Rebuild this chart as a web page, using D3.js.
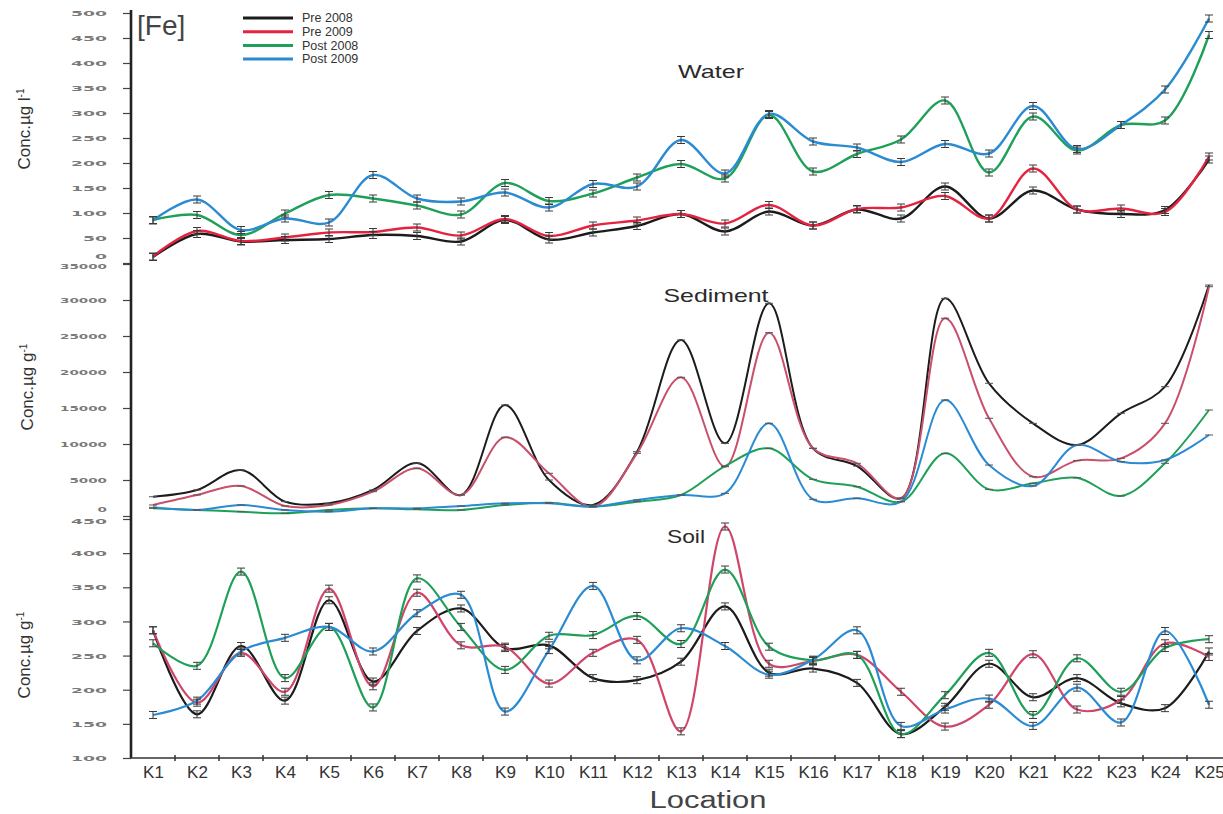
<!DOCTYPE html>
<html>
<head>
<meta charset="utf-8">
<script src="https://cdn.jsdelivr.net/npm/d3@7"></script>
<style>
  body { margin: 0; background: #fff; }
  svg { display: block; font-family: "Liberation Sans", Arial, sans-serif; }
</style>
</head>
<body>
<svg id="chart" width="1223" height="814"></svg>
<script>
// sampling sites
const locations = ["K1","K2","K3","K4","K5","K6","K7","K8","K9","K10","K11","K12","K13",
  "K14","K15","K16","K17","K18","K19","K20","K21","K22","K23","K24","K25"];
const seriesNames = ["Pre 2008", "Pre 2009", "Post 2008", "Post 2009"];

// water, µg/l
const waterPre2008  = [12, 58, 43, 46, 48, 56, 54, 43, 86, 47, 61, 74, 98, 63, 103, 75, 107, 89, 153, 89, 145, 107, 98, 106, 207];
const waterPre2009  = [13, 64, 44, 51, 61, 62, 71, 55, 88, 54, 75, 85, 98, 79, 116, 75, 108, 111, 134, 89, 189, 107, 109, 102, 213];
const waterPost2008 = [86, 96, 56, 99, 136, 129, 115, 97, 160, 124, 139, 171, 198, 169, 296, 183, 218, 247, 325, 181, 293, 225, 276, 285, 456];
const waterPost2009 = [85, 127, 66, 89, 81, 176, 129, 123, 141, 111, 158, 153, 246, 179, 298, 243, 231, 202, 238, 219, 314, 228, 276, 347, 489];

// sediment, µg/g
const sedPre2008  = [2680, 3610, 6390, 1990, 1760, 3610, 7350, 2920, 15420, 5000, 1530, 8930, 24440, 10090, 29540, 9400, 6940, 2460, 30230, 18430, 12870, 9860, 14260, 17960, 32080];
const sedPre2009  = [1530, 2920, 4170, 1390, 1530, 3380, 6620, 2920, 10930, 5930, 1300, 8700, 19260, 6850, 25460, 9400, 7320, 2460, 27460, 13570, 5460, 7690, 8010, 12870, 31850];
const sedPost2008 = [1060, 830, 600, 370, 830, 1060, 930, 830, 1530, 1850, 1300, 1990, 2920, 6940, 9400, 5090, 4070, 1990, 8700, 3700, 4540, 5320, 2780, 7320, 14720];
const sedPost2009 = [1200, 830, 1530, 830, 600, 1060, 1060, 1390, 1760, 1760, 1300, 2220, 2920, 3150, 12870, 2320, 2460, 1990, 16110, 7080, 4170, 9860, 7540, 7780, 11250];

// soil, µg/g
const soilPre2008  = [287, 164, 264, 184, 331, 212, 286, 319, 261, 265, 217, 214, 241, 322, 225, 231, 210, 135, 175, 238, 189, 217, 180, 173, 256];
const soilPre2009  = [287, 181, 254, 197, 348, 205, 342, 265, 263, 209, 254, 273, 139, 439, 238, 242, 251, 197, 146, 178, 252, 171, 185, 268, 248];
const soilPost2008 = [268, 235, 373, 217, 292, 174, 363, 292, 229, 279, 280, 308, 267, 376, 263, 243, 251, 135, 192, 254, 163, 246, 197, 261, 274];
const soilPost2009 = [163, 184, 256, 276, 292, 256, 312, 339, 168, 258, 352, 243, 290, 264, 222, 244, 287, 147, 171, 187, 147, 203, 152, 286, 178];

// tick labels
const waterTicks = [0, 50, 100, 150, 200, 250, 300, 350, 400, 450, 500];
const sedTicks = [0, 5000, 10000, 15000, 20000, 25000, 30000, 35000];
const soilTicks = [100, 150, 200, 250, 300, 350, 400, 450];

const svg = d3.select("#chart");
const axisX = 131, baseY = 758;

const x = d3.scalePoint().domain(locations).range([153, 1209]);
const step = x.step();

const panels = [
  { name: "Water", series: [waterPre2008, waterPre2009, waterPost2008, waterPost2009],
    domain: [0, 500], range: [263, 13], ticks: waterTicks, sx: 2.3, unit: "l",
    red: "#e3233f", width: 2.4, bars: true, title: [711, 78, 66], ylab: [24, 129] },
  { name: "Sediment", series: [sedPre2008, sedPre2009, sedPost2008, sedPost2009],
    domain: [0, 35000], range: [516, 264], ticks: sedTicks, sx: 1.8, unit: "g",
    red: "#c9506b", width: 2, bars: false, title: [716, 302, 105], ylab: [27, 387] },
  { name: "Soil", series: [soilPre2008, soilPre2009, soilPost2008, soilPost2009],
    domain: [100, 450], range: [758, 519], ticks: soilTicks, sx: 2.3, unit: "g",
    red: "#d0456a", width: 2.2, bars: true, title: [686, 543, 38], ylab: [24, 655] }
];

const baseColors = ["#1c1c1c", null, "#1fa058", "#2a8bd3"];

panels.forEach((p, pi) => {
  const y = d3.scaleLinear().domain(p.domain).range(p.range);
  const colors = baseColors.slice(); colors[1] = p.red;
  const top = p.domain[1];

  // y axis ticks
  const ax = svg.append("g")
    .attr("transform", `translate(${axisX},0)`)
    .call(d3.axisLeft(y).tickValues(p.ticks).tickFormat(d3.format("d"))
      .tickSize(8).tickSizeOuter(0));
  ax.select(".domain").remove();
  ax.selectAll(".tick line").attr("stroke", "#444").attr("stroke-width", 1.2);
  ax.selectAll(".tick text")
    .attr("x", -24 / p.sx)
    // the zero / top labels of stacked panels are nudged apart, as in the figure
    .attr("dy", d => d === 0 ? "-0.65em" : (d === top && pi > 0 ? "0.6em" : "0.36em"))
    .attr("transform", `scale(${p.sx},1)`)
    .style("font-family", "'DejaVu Sans', sans-serif")
    .style("font-weight", "bold")
    .style("font-size", "7.5px")
    .attr("fill", "#7a7a7a");

  const line = d3.line()
    .x((d, i) => x(locations[i]))
    .y(d => y(d))
    .curve(d3.curveCatmullRom.alpha(0.5));

  const g = svg.append("g");
  p.series.forEach((s, k) => {
    g.append("path")
      .datum(s)
      .attr("fill", "none")
      .attr("stroke", colors[k])
      .attr("stroke-width", p.width)
      .attr("stroke-linejoin", "round")
      .attr("d", line);
  });

  // error bars / point markers
  p.series.forEach(s => {
    const eb = g.append("g").attr("stroke", "#3a3a3a").attr("stroke-width", 1);
    s.forEach((v, i) => {
      const cx = x(locations[i]), cy = y(v);
      if (p.bars) {
        eb.append("line").attr("x1", cx).attr("x2", cx).attr("y1", cy - 3.5).attr("y2", cy + 3.5);
        eb.append("line").attr("x1", cx - 4).attr("x2", cx + 4).attr("y1", cy - 3.5).attr("y2", cy - 3.5);
        eb.append("line").attr("x1", cx - 4).attr("x2", cx + 4).attr("y1", cy + 3.5).attr("y2", cy + 3.5);
      } else {
        eb.append("line").attr("x1", cx - 4).attr("x2", cx + 4).attr("y1", cy).attr("y2", cy)
          .attr("stroke", "#555");
      }
    });
  });

  // panel title
  svg.append("text")
    .attr("x", p.title[0]).attr("y", p.title[1])
    .attr("text-anchor", "middle")
    .attr("textLength", p.title[2]).attr("lengthAdjust", "spacingAndGlyphs")
    .style("font-size", "19px")
    .attr("fill", "#2a2a2a")
    .text(p.name);

  // y label
  const yl = svg.append("text")
    .attr("transform", `translate(${p.ylab[0]},${p.ylab[1]}) rotate(-90)`)
    .attr("text-anchor", "middle")
    .attr("dy", "0.35em")
    .style("font-size", "17px")
    .attr("fill", "#333");
  yl.append("tspan").text("Conc.µg " + p.unit);
  yl.append("tspan").attr("dy", "-0.6em").style("font-size", "10px").text("-1");
});

// main y axis line
svg.append("line")
  .attr("x1", axisX).attr("x2", axisX).attr("y1", 10).attr("y2", baseY)
  .attr("stroke", "#222").attr("stroke-width", 2.6);

// x axis
const xa = svg.append("g")
  .attr("transform", `translate(0,${baseY})`)
  .call(d3.axisBottom(x).tickSize(0).tickPadding(8));
xa.select(".domain").remove();
xa.selectAll(".tick text").style("font-size", "17px").attr("fill", "#333");
svg.append("line")
  .attr("x1", axisX).attr("x2", 1223).attr("y1", baseY).attr("y2", baseY)
  .attr("stroke", "#333").attr("stroke-width", 1.6);
svg.append("g").selectAll("line")
  .data(locations.slice(0, -1))
  .join("line")
  .attr("x1", d => x(d) + step / 2).attr("x2", d => x(d) + step / 2)
  .attr("y1", baseY - 3).attr("y2", baseY + 3)
  .attr("stroke", "#333").attr("stroke-width", 1.5);

svg.append("text")
  .attr("x", 708).attr("y", 808)
  .attr("text-anchor", "middle")
  .attr("textLength", 117).attr("lengthAdjust", "spacingAndGlyphs")
  .style("font-size", "23px")
  .attr("fill", "#444")
  .text("Location");

// element label
svg.append("text")
  .attr("x", 137).attr("y", 35)
  .style("font-size", "28px")
  .attr("fill", "#444")
  .text("[Fe]");

// legend
const legendColors = ["#1c1c1c", "#e3233f", "#1fa058", "#2a8bd3"];
const lg = svg.append("g").selectAll("g")
  .data(seriesNames)
  .join("g")
  .attr("transform", (d, i) => `translate(243,${18 + i * 13.7})`);
lg.append("line").attr("x1", 0).attr("x2", 50)
  .attr("stroke", (d, i) => legendColors[i]).attr("stroke-width", 3);
lg.append("text").attr("x", 59).attr("dy", "0.35em")
  .style("font-size", "12.5px").attr("fill", "#333")
  .text(d => d);
</script>
</body>
</html>
